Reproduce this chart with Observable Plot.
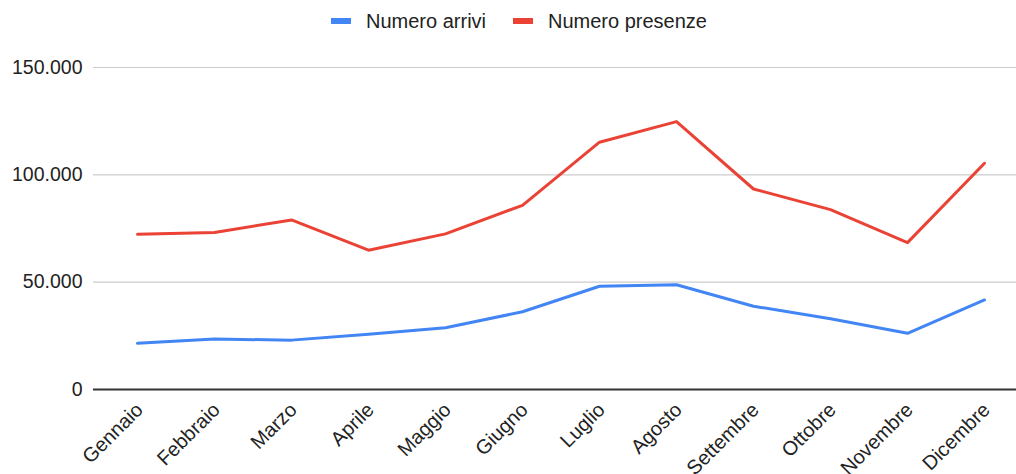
<!DOCTYPE html>
<html>
<head>
<meta charset="utf-8">
<script src="https://cdn.jsdelivr.net/npm/d3@7"></script>
<script src="https://cdn.jsdelivr.net/npm/@observablehq/plot@0.6"></script>
<style>
  html, body { margin: 0; padding: 0; background: #fff; width: 1016px; height: 474px; overflow: hidden; }
  body { font-family: "Liberation Sans", Arial, sans-serif; position: relative; }
  #legend { position: relative; height: 40px; }
  .item { position: absolute; top: 1px; height: 40px; display: flex; align-items: center; font-size: 20px; color: #222; }
  .sw { display: inline-block; width: 20px; height: 6px; margin-right: 15px; }
  #chart svg { display: block; }
</style>
</head>
<body>
<div id="legend"></div>
<div id="chart"></div>
<script>
const months = ["Gennaio","Febbraio","Marzo","Aprile","Maggio","Giugno","Luglio","Agosto","Settembre","Ottobre","Novembre","Dicembre"];
const arrivi = [21500, 23500, 23000, 25700, 28800, 36200, 48100, 48800, 38800, 33000, 26200, 41700];
const presenze = [72300, 73100, 79000, 64900, 72500, 85800, 115200, 124800, 93400, 83800, 68400, 105400];
const seriesNames = ["Numero arrivi", "Numero presenze"];
const seriesColors = ["#4285F4", "#EA4335"];
const yTicks = [0, 50000, 100000, 150000];

const data = [];
months.forEach((m, i) => {
  data.push({month: m, value: arrivi[i], series: seriesNames[0]});
  data.push({month: m, value: presenze[i], series: seriesNames[1]});
});

// legend
const legend = document.getElementById("legend");
const lefts = [331, 513];
seriesNames.forEach((n, i) => {
  const d = document.createElement("div");
  d.className = "item";
  d.style.left = lefts[i] + "px";
  d.innerHTML = `<span class="sw" style="background:${seriesColors[i]}"></span><span>${n}</span>`;
  legend.appendChild(d);
});

const fmt = d => d3.format(",")(d).replace(/,/g, ".");

const chart = Plot.plot({
  width: 1016,
  height: 434,
  marginLeft: 93,
  marginRight: 0,
  marginTop: 27,
  marginBottom: 85,
  style: {fontFamily: "'Liberation Sans', Arial, sans-serif", fontSize: "19.5px", color: "#222", background: "#fff"},
  x: {type: "point", domain: months, range: [131.7, 989], padding: 0, label: null},
  y: {domain: [0, 150000], label: null},
  color: {domain: seriesNames, range: seriesColors},
  marks: [
    Plot.ruleY(yTicks.filter(d => d > 0), {stroke: "#cccccc", strokeWidth: 1.2, strokeOpacity: 1}),
    Plot.axisY({ticks: yTicks, tickSize: 0, tickPadding: 11, tickFormat: fmt, fontSize: 19.5, fill: "#222"}),
    Plot.axisX({tickSize: 0, tickRotate: -45, tickPadding: 6, dx: 2, dy: 11, fontSize: 20, fill: "#222"}),
    Plot.line(data, {x: "month", y: "value", stroke: "series", strokeWidth: 3, curve: "linear"}),
    Plot.ruleY([0], {stroke: "#333333", strokeWidth: 2})
  ]
});
document.getElementById("chart").appendChild(chart);
</script>
</body>
</html>
